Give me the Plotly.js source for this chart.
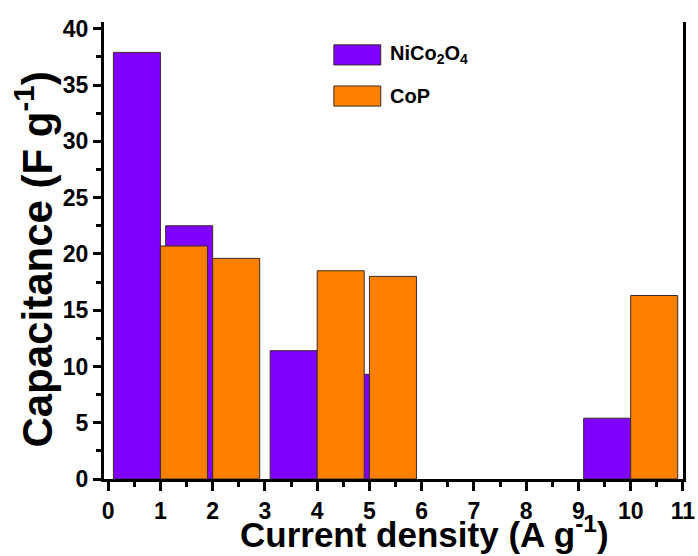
<!DOCTYPE html>
<html>
<head>
<meta charset="utf-8">
<script src="https://cdn.plot.ly/plotly-3.0.1.min.js"></script>
<style>html,body{margin:0;padding:0;background:#fff;}#chart{width:698px;height:556px;}</style>
</head>
<body>
<div id="chart"></div>
<script>
// Data
const currentDensity = [1, 2, 4, 5, 10];
const nico2o4 = [37.9, 22.5, 11.4, 9.3, 5.4];
const cop = [20.7, 19.6, 18.5, 18.0, 16.3];
const seriesNames = ['NiCo<sub>2</sub>O<sub>4</sub>', 'CoP'];
const xTickVals = [0,1,2,3,4,5,6,7,8,9,10,11];
const yTickVals = [0,5,10,15,20,25,30,35,40];

const FONT = 'Liberation Sans, Arial, sans-serif';
const purple = '#7F00FF';
const orange = '#FF8000';

const traces = [
  {type:'bar', name: seriesNames[0], x: currentDensity, y: nico2o4, width: 0.9, offset: -0.9,
   marker:{color: purple, line:{color:'#3a2a2a', width:1}}, showlegend:false},
  {type:'bar', name: seriesNames[1], x: currentDensity, y: cop, width: 0.9, offset: 0,
   marker:{color: orange, line:{color:'#3a2a2a', width:1}}, showlegend:false}
];

const axisCommon = {
  showgrid:false, zeroline:false, showline:true, linecolor:'#000', linewidth:3,
  ticks:'outside', tickcolor:'#000', tickwidth:3,
};

const layout = {
  width:698, height:556,
  margin:{l:104, r:15, t:22, b:76.5},
  paper_bgcolor:'#fff', plot_bgcolor:'#fff',
  barmode:'overlay',
  font:{family:FONT, color:'#000'},
  xaxis: Object.assign({}, axisCommon, {
    range:[-0.08, 11.001], tickmode:'array', tickvals:xTickVals, ticktext:xTickVals.map(String),
    ticklen:9, mirror:false,
    tickfont:{family:FONT, size:23, weight:'bold', color:'#000'},
    minor:{dtick:0.5, tick0:0, ticks:'outside', ticklen:5, tickwidth:3, tickcolor:'#000'}
  }),
  yaxis: Object.assign({}, axisCommon, {
    range:[0, 40.6], tickmode:'array', tickvals:yTickVals, ticktext:yTickVals.map(String),
    ticklen:8, mirror:true,
    tickfont:{family:FONT, size:23, weight:'bold', color:'#000'},
    minor:{dtick:2.5, tick0:0, ticks:'outside', ticklen:5, tickwidth:3, tickcolor:'#000'}
  }),
  shapes:[
    {type:'rect', xref:'paper', yref:'paper', x0:0.397, x1:0.478, y0:0.906, y1:0.950,
     fillcolor:purple, line:{color:'#3a2a2a', width:1}},
    {type:'rect', xref:'paper', yref:'paper', x0:0.397, x1:0.478, y0:0.816, y1:0.860,
     fillcolor:orange, line:{color:'#3a2a2a', width:1}}
  ],
  annotations:[
    {xref:'paper', yref:'paper', x:0.4905, y:0.928, xanchor:'left', yanchor:'middle', showarrow:false,
     text: seriesNames[0], font:{family:FONT, size:20, weight:'bold', color:'#000'}},
    {xref:'paper', yref:'paper', x:0.4905, y:0.838, xanchor:'left', yanchor:'middle', showarrow:false,
     text: seriesNames[1], font:{family:FONT, size:20, weight:'bold', color:'#000'}},
    {xref:'paper', yref:'paper', x:0.554, y:-0.1165, xanchor:'center', yanchor:'middle', showarrow:false,
     text:'Current density (A g<sup>-1</sup>)', font:{family:FONT, size:35, weight:'bold', color:'#000'}},
    {xref:'paper', yref:'paper', x:-0.121, y:0.48, xanchor:'center', yanchor:'middle', showarrow:false,
     textangle:-90, text:'Capacitance (F g<sup>-1</sup>)', font:{family:FONT, size:42, weight:'bold', color:'#000'}}
  ]
};

Plotly.newPlot('chart', traces, layout, {displayModeBar:false, staticPlot:true});
</script>
</body>
</html>
